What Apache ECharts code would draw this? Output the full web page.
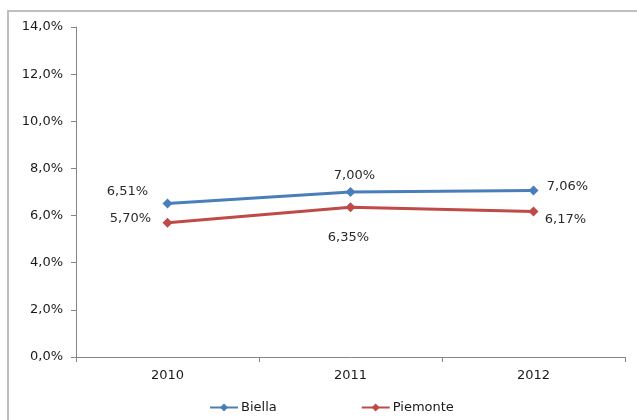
<!DOCTYPE html>
<html>
<head>
<meta charset="utf-8">
<style>
  html, body { margin: 0; padding: 0; background: #ffffff; }
  #chart { width: 637px; height: 420px; }
</style>
<script src="https://cdn.jsdelivr.net/npm/echarts@6/dist/echarts.min.js"></script>
</head>
<body>
<div id="chart"></div>
<script>
// Anni e tassi (%) per Biella e Piemonte
const years = ['2010', '2011', '2012'];
const biella = [6.51, 7.00, 7.06];
const piemonte = [5.70, 6.35, 6.17];
const yTicks = [0, 2, 4, 6, 8, 10, 12, 14];

// posizionamento delle etichette dei valori attorno ai marcatori
const biellaOffsets = [[-40, -12], [4, -16], [34, -4]];
const piemonteOffsets = [[-37, -4], [-2, 30], [32, 8]];

const fmt = v => v.toFixed(2).replace('.', ',') + '%';
const FONT = 'DejaVu Sans';

function seriesData(values, offsets) {
  return values.map((v, i) => ({
    value: v,
    label: { offset: offsets[i] }
  }));
}

const chart = echarts.init(document.getElementById('chart'), null, { renderer: 'canvas' });

function makeSeries(name, values, offsets, color) {
  return {
    name: name,
    type: 'line',
    data: seriesData(values, offsets),
    symbol: 'diamond',
    symbolSize: 10,
    lineStyle: { color: color, width: 3 },
    itemStyle: { color: color },
    animation: false,
    label: {
      show: true,
      position: 'inside',
      align: 'center',
      verticalAlign: 'middle',
      color: '#2a2a2a',
      fontFamily: FONT,
      fontSize: 13,
      formatter: p => fmt(p.value)
    }
  };
}

chart.setOption({
  animation: false,
  graphic: [{
    // bordo del riquadro del grafico (lati superiore e sinistro)
    type: 'polyline',
    shape: { points: [[8, 430], [8, 11], [650, 11]] },
    style: { fill: 'none', stroke: '#bfbfbf', lineWidth: 2 },
    silent: true,
    z: -1
  }],
  grid: { left: 76, top: 27, right: 12, bottom: 63 },
  legend: {
    left: 204,
    top: 396,
    itemWidth: 28,
    itemHeight: 10,
    itemGap: 84,
    textStyle: { fontFamily: FONT, fontSize: 13, color: '#1a1a1a', padding: [0, 0, 0, -2] },
    data: ['Biella', 'Piemonte']
  },
  xAxis: {
    type: 'category',
    data: years,
    boundaryGap: true,
    axisLine: { lineStyle: { color: '#868686', width: 1 } },
    axisTick: { show: true, length: 5, lineStyle: { color: '#868686' } },
    axisLabel: { fontFamily: FONT, fontSize: 13, color: '#1a1a1a', margin: 12 }
  },
  yAxis: {
    type: 'value',
    min: yTicks[0],
    max: yTicks[yTicks.length - 1],
    interval: yTicks[1] - yTicks[0],
    splitLine: { show: false },
    axisLine: { show: true, lineStyle: { color: '#868686', width: 1 } },
    axisTick: { show: true, length: 5, lineStyle: { color: '#868686' } },
    axisLabel: {
      fontFamily: FONT, fontSize: 13, color: '#1a1a1a', margin: 13,
      formatter: v => v.toFixed(1).replace('.', ',') + '%'
    }
  },
  series: [
    makeSeries('Biella', biella, biellaOffsets, '#4a7ebb'),
    makeSeries('Piemonte', piemonte, piemonteOffsets, '#be4b48')
  ]
});
</script>
</body>
</html>
